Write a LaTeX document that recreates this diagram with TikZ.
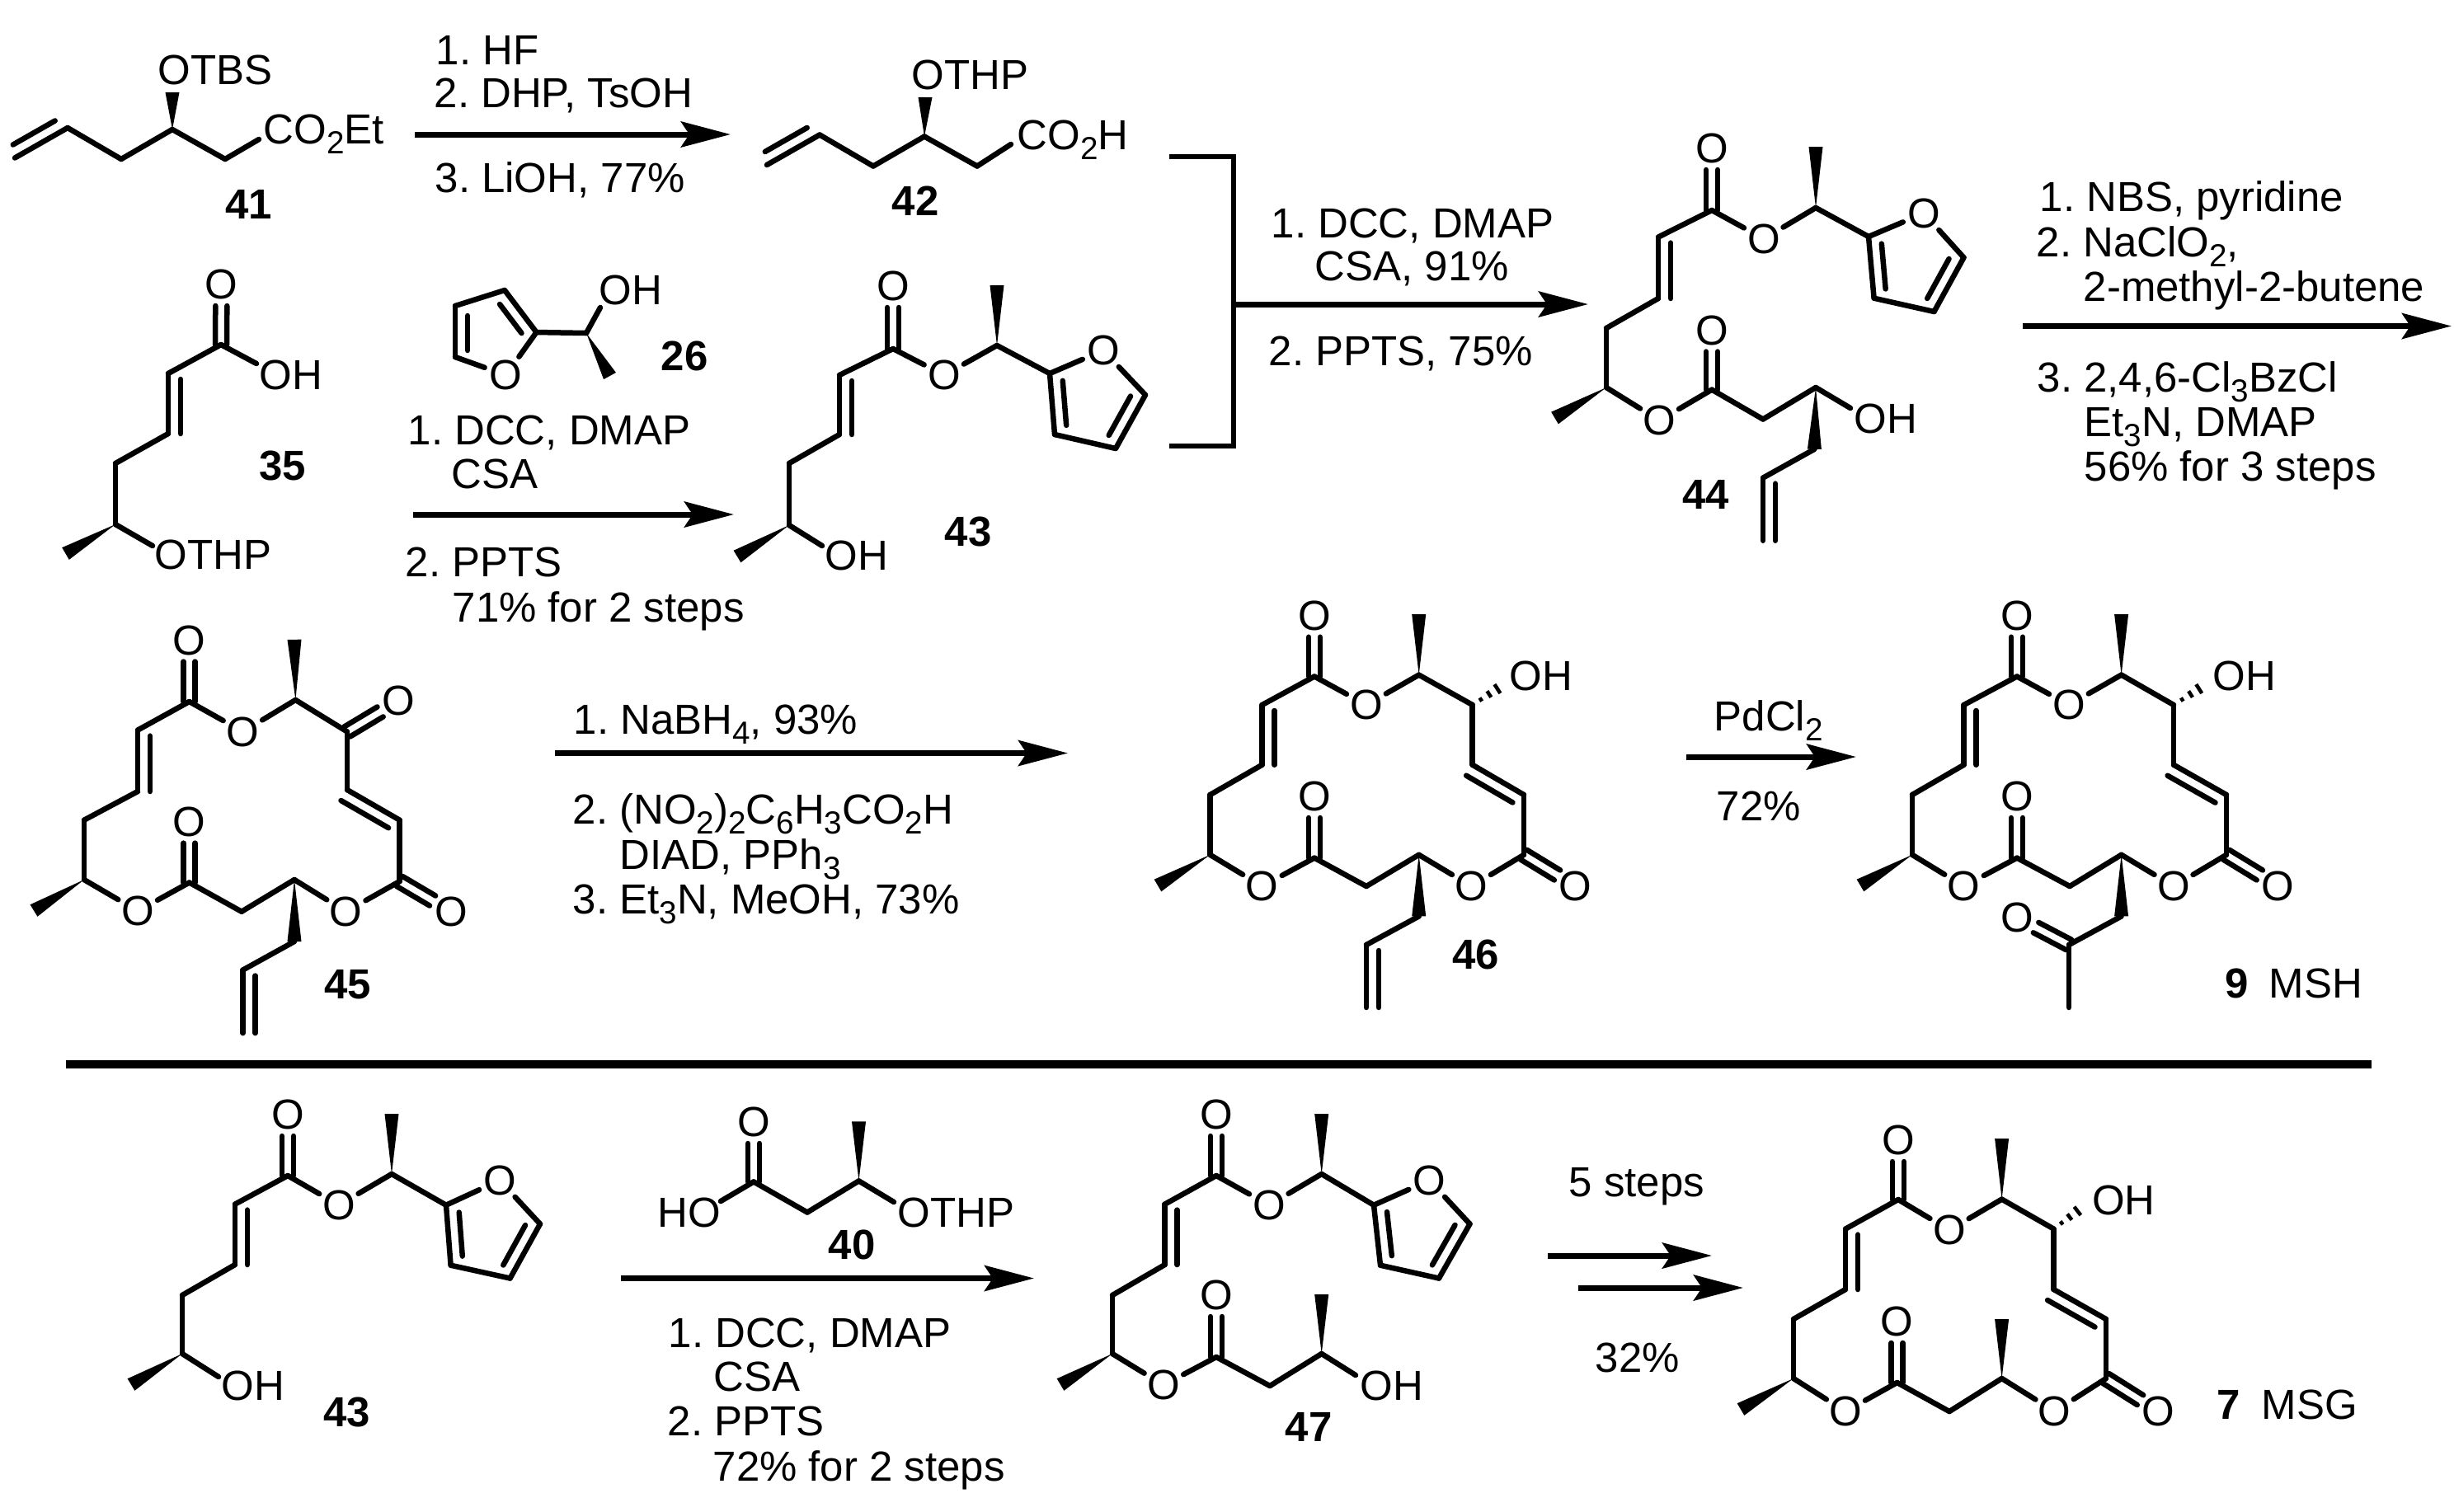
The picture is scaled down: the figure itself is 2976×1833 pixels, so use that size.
\documentclass[tikz,border=0pt]{standalone}
\usepackage{fontspec}
\setmainfont{Liberation Sans}
\usetikzlibrary{arrows.meta,calc}
\frenchspacing

\tikzset{
  bond/.style={line width=.65mm,line cap=round},
  oxy/.style={circle,inner sep=0pt,minimum size=5.2mm},
  txt/.style={anchor=base west,inner sep=0pt},
  num/.style={anchor=base,inner sep=0pt,font=\fontsize{14.5}{16}\selectfont\bfseries},
  rxn/.style={line width=.7mm,-{Stealth[length=6mm,width=3.1mm,inset=1mm]}},
  brack/.style={line width=.65mm},
  divider/.style={line width=1.06mm}
}
\newcommand{\sbs}[1]{\raisebox{-1.2mm}{\fontsize{11}{11}\selectfont #1}}
\newcommand{\atoms}[1]{\foreach \n/\x/\y in {#1} \coordinate (\n) at (\x,\y);}
\newcommand{\oxys}[1]{\foreach \n/\x/\y in {#1} \node[oxy] (\n) at (\x,\y) {O};}
\newcommand{\bonds}[1]{\foreach \from/\to in {#1} \draw[bond] (\from) -- (\to);}
\newcommand{\dbond}[2]{%
  \draw[bond,shorten >=2.6mm] ($(#1)!.7mm!90:(#2)$) -- ($(#2)!.7mm!-90:(#1)$);
  \draw[bond,shorten >=2.6mm] ($(#1)!.7mm!-90:(#2)$) -- ($(#2)!.7mm!90:(#1)$);}
\newcommand{\inbond}[5]{\draw[bond,shorten <=#4mm,shorten >=#5mm]
  ($(#1)!1.5mm!#3:(#2)$) -- ($(#2)!1.5mm!-1*(#3):(#1)$);}
\newcommand{\wdg}[2]{\fill ($(#2)!.85mm!90:(#1)$) -- ($(#2)!.85mm!-90:(#1)$) -- (#1) -- cycle;}
\newcommand{\hashb}[2]{\foreach \t/\w in {.25/.25,.5/.45,.75/.65,1/.85}
  \draw[line width=.45mm] ($(#1)!\t!(#2)!\w mm!90:(#2)$) -- ($(#1)!\t!(#2)!\w mm!-90:(#2)$);}
% enoate with the furyl ester, used four times
\newcommand{\furest}[1]{%
  \foreach \from/\to in {c1/a1,a1/a2,a2/b1,b1/d1,c1/f1,f1/d2,d2/r2,r2/r3,r3/r4,r4/r5,r5/o2,o2/r2}
    \draw[bond] (#1\from) -- (#1\to);
  \dbond{#1c1}{#1o1}
  \wdg{#1d1}{#1e1}
  \wdg{#1d2}{#1g1}
  \inbond{#1a1}{#1a2}{90}{.7}{0}
  \inbond{#1r2}{#1r3}{90}{1}{1}
  \inbond{#1r4}{#1r5}{90}{1}{1}}
% the macrocycle
\newcommand{\lactone}[1]{%
  \foreach \from/\to in {c1/a1,a1/a2,a2/b1,b1/d1,d1/f1,f1/c2,c2/h1,h1/d2,d2/f2,f2/c3,c3/b3,b3/a3,a3/a4,a4/d3,d3/f3,f3/c1}
    \draw[bond] (#1\from) -- (#1\to);
  \dbond{#1c1}{#1o1}
  \dbond{#1c2}{#1o2}
  \dbond{#1c3}{#1o3}
  \wdg{#1d1}{#1e1}
  \wdg{#1d3}{#1g1}
  \inbond{#1a1}{#1a2}{90}{.7}{0}
  \inbond{#1a3}{#1b3}{-90}{0}{.7}}

\begin{document}
\begin{tikzpicture}
  [x=.1mm,y=-.1mm,every node/.style={font=\fontsize{14.5}{16}\selectfont}]
\useasboundingbox (0,0) rectangle (2976,1833);

% 41
\atoms{pa/18/191.5,pb/82/155,pc/147/193,pd/209/157,pe/273/193,pf/314/169,pg/209/112}
\bonds{pa/pb,pb/pc,pc/pd,pd/pe,pe/pf}
\inbond{pa}{pb}{90}{.6}{.9}
\wdg{pd}{pg}
\node[txt] (tbs) at (191,102) {OTBS};
\node[txt] (est) at (319,174) {CO\sbs{2}Et};
\node[num] (n41) at (302,265) {41};

% 42
\atoms{qa/930/200,qb/994/163.5,qc/1059/201.5,qd/1121/165.5,qe/1185/201.5,qf/1226/175,qg/1122/118}
\bonds{qa/qb,qb/qc,qc/qd,qd/qe,qe/qf}
\inbond{qa}{qb}{90}{.6}{.9}
\wdg{qd}{qg}
\node[txt] (thp42) at (1105,108.5) {OTHP};
\node[txt] (acid) at (1233,181.6) {CO\sbs{2}H};
\node[num] (n42) at (1110,261) {42};

% 35
\oxys{so/268.5/345}
\atoms{sc/268/418,sh/311/441,sa/204/453,sb/204/526,sd/140/562,se/140/636,sf/79.5/671.5,sg/185/662}
\bonds{sc/sh,sc/sa,sa/sb,sb/sd,sd/se,se/sg}
\dbond{sc}{so}
\inbond{sa}{sb}{90}{.7}{0}
\wdg{se}{sf}
\node[txt] (oh35) at (314,472) {OH};
\node[txt] (thp35) at (187,690.5) {OTHP};
\node[num] (n35) at (342.5,582) {35};

% 26
\oxys{uo/613.5/455}
\atoms{ua/650.5/403,ub/612/352,uc/552/371,ud/552/433,ue/711/404,uf/728/373,ug/739.5/456}
\bonds{ua/ub,ub/uc,uc/ud,ud/uo,uo/ua,ua/ue,ue/uf}
\inbond{ua}{ub}{90}{1}{1}
\inbond{uc}{ud}{90}{1.2}{.8}
\wdg{ue}{ug}
\node[txt] (oh26) at (726,369) {OH};
\node[num] (n26) at (830,449) {26};

% 43 upper
\atoms{vc1/1083/423,va1/1018/455,va2/1018/527,vb1/957/562,vd1/957/637,ve1/894/675,vd2/1209/419,vg1/1209/346,
  vr2/1273/453,vr3/1279/527,vr4/1353/544,vr5/1389/479,vh/997/662}
\oxys{vo1/1083/347,vf1/1145/455,vo2/1338/425}
\furest{v}
\bonds{vd1/vh}
\node[txt] (oh43) at (1000,691.5) {OH};
\node[num] (n43) at (1174,662) {43};

% 44
\atoms{wc1/2076/255,wa1/2011/287.6,wa2/2011/362,wb1/1948/398,wd1/1948/470,we1/1885.5/507,wd2/2202/252,wg1/2202/178,
  wr2/2266/287,wr3/2272.6/361.7,wr4/2345.5/378,wr5/2381.5/312.4,
  wc2/2076/472.6,wh1/2138/508.5,wd3/2202/470,wj/2244/495,wk/2200.4/544.8,wl/2138/579.6,wm/2138/655.7}
\oxys{wo1/2076/180,wf1/2139/289.6,wo2/2333/258.7,wf2/2012.4/510,wo3/2076/400.5}
\furest{w}
\bonds{wd1/wf2,wf2/wc2,wc2/wh1,wh1/wd3,wd3/wj,wk/wl,wl/wm}
\dbond{wc2}{wo3}
\wdg{wd3}{wk}
\inbond{wl}{wm}{90}{.7}{0}
\node[txt] (oh44) at (2248,525) {OH};
\node[num] (n44) at (2068.5,617) {44};

% 45
\atoms{xc1/229.6/851,xa1/167/885.6,xa2/167/960,xb1/102/994.7,xd1/102/1067,xe1/41/1104.5,xc2/229.6/1070.5,
  xh1/293/1105.7,xd2/357/1067,xc3/484.7/1069,xb3/484.7/994.7,xa3/421/958,xa4/421/887.5,xd3/358.4/849,xg1/357/775.8,
  xw/357/1142,xv/294.6/1176.5,xu/294.6/1253}
\oxys{xo1/229.6/776.5,xf1/167/1105,xo2/229.6/996.6,xf2/419.6/1105.7,xo3/547/1105.7,xf3/294.6/887.5,xo4/483.4/850}
\lactone{x}
\dbond{xa4}{xo4}
\wdg{xd2}{xw}
\bonds{xw/xv,xv/xu}
\inbond{xv}{xu}{90}{.7}{0}
\node[num] (n45) at (422,1211) {45};

% 46
\atoms{yc1/1594/820.5,ya1/1530.6/855,ya2/1530.6/927.7,yb1/1467.5/964,yd1/1467.5/1036.8,ye1/1404/1074,yc2/1594/1040.6,
  yh1/1657/1075,yd2/1720.7/1036.8,yc3/1848/1036.8,yb3/1848/964,ya3/1785.7/927.7,ya4/1785.7/855,yd3/1720.7/818.6,yg1/1720.7/745,
  yw/1720.7/1111.4,yv/1657/1146,yu/1657/1222,yq/1826/829}
\oxys{yo1/1594/746.7,yf1/1530.6/1075,yo2/1594/966,yf2/1784.4/1075,yo3/1910.7/1075,yf3/1657/855}
\lactone{y}
\wdg{yd2}{yw}
\bonds{yw/yv,yv/yu}
\inbond{yv}{yu}{90}{.7}{0}
\hashb{ya4}{yq}
\node[txt] (oh46) at (1830,837) {OH};
\node[num] (n46) at (1789.5,1175) {46};

% 9
\atoms{zc1/2446/820.5,za1/2381.6/855,za2/2381.6/927.7,zb1/2319/964,zd1/2319/1036.8,ze1/2256/1074,zc2/2446/1040.6,
  zh1/2510/1075,zd2/2572.6/1036.8,zc3/2700/1036.8,zb3/2700/964,za3/2636/927.7,za4/2636/855,zd3/2572.6/818.6,zg1/2572.6/745,
  zw/2572.6/1111.4,zk/2509/1146,zm/2509/1222,zq/2677/829}
\oxys{zo1/2446/746.7,zf1/2381.6/1075,zo2/2446/966,zf2/2636/1075,zo3/2762.5/1075,zf3/2509/855,zo4/2446/1113}
\lactone{z}
\wdg{zd2}{zw}
\bonds{zw/zk,zk/zm}
\dbond{zk}{zo4}
\hashb{za4}{zq}
\node[txt] (oh9) at (2683,837) {OH};
\node[num,anchor=base west] (n9) at (2698,1210) {9};
\node[txt] (msh) at (2751,1210) {MSH};

% 43 lower
\atoms{gc1/349/1426,ga1/285/1460.6,ga2/285/1534,gb1/221/1571,gd1/221/1642,ge1/159/1679.5,gd2/475/1424,gg1/475/1351,
  gr2/541/1461.7,gr3/546.6/1534.7,gr4/618.6/1550.5,gr5/655/1484.6,gh/265/1670}
\oxys{go1/349/1352,gf1/411/1461.7,go2/606/1431.7}
\furest{g}
\bonds{gd1/gh}
\node[txt] (ohg) at (268,1698) {OH};
\node[num] (n43b) at (421,1730) {43};

% 40
\oxys{ho/914/1361}
\atoms{hc/914/1433.4,ha/874/1457,hb/979/1470.5,hd/1041.5/1432.4,he/1041.5/1360.4,hf/1084/1458}
\bonds{hc/ha,hc/hb,hb/hd,hd/hf}
\dbond{hc}{ho}
\wdg{hd}{he}
\node[txt] (ho40) at (797,1488) {HO};
\node[txt] (thp40) at (1088,1488) {OTHP};
\node[num] (n40) at (1033,1527) {40};

% 47
\atoms{kc1/1475/1426,ka1/1412.6/1460.6,ka2/1412.6/1534,kb1/1349/1571,kd1/1349/1642,ke1/1286/1679.5,kd2/1602.7/1424,kg1/1602.7/1351,
  kr2/1666/1461.7,kr3/1674/1534.7,kr4/1745/1550.5,kr5/1782.5/1484.6,
  kc2/1475/1646,kh1/1540/1681,kd3/1602.7/1642,kg2/1602.7/1570,kj/1644/1668}
\oxys{ko1/1475/1352,kf1/1539/1461.7,ko2/1733.4/1431.7,kf2/1411/1680,ko3/1475/1571}
\furest{k}
\bonds{kd1/kf2,kf2/kc2,kc2/kh1,kh1/kd3,kd3/kj}
\dbond{kc2}{ko3}
\wdg{kd3}{kg2}
\node[txt] (oh47) at (1649,1698) {OH};
\node[num] (n47) at (1587,1748) {47};

% 7
\atoms{lc1/2302/1455,la1/2238/1490.6,la2/2238/1564,lb1/2175/1600,ld1/2175/1672,le1/2111/1709.5,lc2/2300.6/1677,
  lh1/2364/1712,ld2/2427.6/1672,lc3/2554/1672,lb3/2554/1600,la3/2490.5/1564,la4/2490.5/1490.6,ld3/2427.6/1454.6,lg1/2427.6/1381,
  lg2/2427.6/1600,lq/2529/1461.6}
\oxys{lo1/2302/1383,lf1/2238/1712,lo2/2300.6/1603,lf2/2491.7/1712,lo3/2617.5/1712,lf3/2364/1492}
\lactone{l}
\wdg{ld2}{lg2}
\hashb{la4}{lq}
\node[txt] (oh7) at (2536.5,1473) {OH};
\node[num,anchor=base west] (n7) at (2688,1721) {7};
\node[txt] (msg) at (2742,1721) {MSG};

% arrows
\foreach \n/\x/\u/\y in {ra/503/886/163,rb/500.6/890/624,rc/2453/2973/395.5,rd/673/1295/913.5,
  re/2045/2251/918,rf/752.6/1254/1550.5,rg/1877/2076/1523,rh/1914/2114/1562}
{
  \coordinate (\n s) at (\x,\y);
  \coordinate (\n e) at (\u,\y);
  \draw[rxn] (\n s) -- (\n e);
}
% bracket
\atoms{bt/1418/190,bu/1496/190,bm/1496/369,bl/1496/541,bb/1418/541,be/1926/369}
\draw[brack] (bt) -- (bu) -- (bl) -- (bb);
\draw[rxn] (bm) -- (be);
% divider
\atoms{sl/80/1291,sr/2876/1291}
\draw[divider] (sl) -- (sr);

% conditions
\node[txt] (c1) at (528,78.6) {1. HF};
\node[txt] (c2) at (526,130) {2. DHP, TsOH};
\node[txt] (c3) at (527,233) {3. LiOH, 77\%};
\node[txt] (c4) at (494,539) {1. DCC, DMAP};
\node[txt] (c5) at (547,592) {CSA};
\node[txt] (c6) at (491,699) {2. PPTS};
\node[txt] (c7) at (548,754) {71\% for 2 steps};
\node[txt] (c8) at (1541,288.6) {1. DCC, DMAP};
\node[txt] (c9) at (1594,340) {CSA, 91\%};
\node[txt] (c10) at (1538,443) {2. PPTS, 75\%};
\node[txt] (c11) at (2473,256) {1. NBS, pyridine};
\node[txt] (c12) at (2469,311) {2. NaClO\sbs{2},};
\node[txt] (c13) at (2526,365.7) {2-methyl-2-butene};
\node[txt] (c14) at (2470,475) {3. 2,4,6-Cl\sbs{3}BzCl};
\node[txt] (c15) at (2527,529) {Et\sbs{3}N, DMAP};
\node[txt] (c16) at (2527,583) {56\% for 3 steps};
\node[txt] (c17) at (695,890) {1. NaBH\sbs{4}, 93\%};
\node[txt] (c18) at (694,999) {2. (NO\sbs{2})\sbs{2}C\sbs{6}H\sbs{3}CO\sbs{2}H};
\node[txt] (c19) at (751,1054) {DIAD, PPh\sbs{3}};
\node[txt] (c20) at (694,1108.7) {3. Et\sbs{3}N, MeOH, 73\%};
\node[txt] (c21) at (2078,886.8) {PdCl\sbs{2}};
\node[txt] (c22) at (2081,995) {72\%};
\node[txt] (c23) at (810,1634) {1. DCC, DMAP};
\node[txt] (c24) at (865,1687) {CSA};
\node[txt] (c25) at (809,1741) {2. PPTS};
\node[txt] (c26) at (864,1796) {72\% for 2 steps};
\node[txt] (c27) at (1902,1451) {5 steps};
\node[txt] (c28) at (1934,1664) {32\%};

\end{tikzpicture}
\end{document}
